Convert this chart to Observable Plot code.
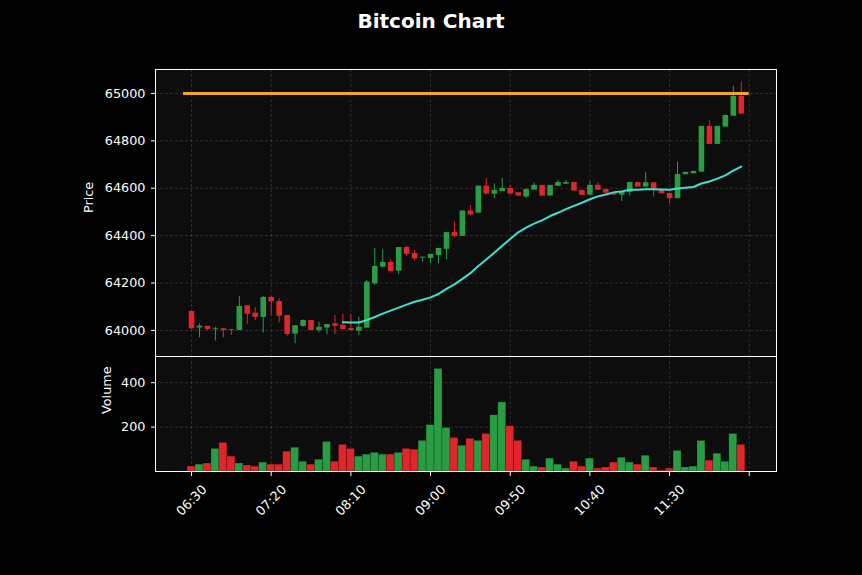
<!DOCTYPE html>
<html><head><meta charset="utf-8">
<script src="https://cdn.jsdelivr.net/npm/d3@7"></script>
<script src="https://cdn.jsdelivr.net/npm/@observablehq/plot@0.6"></script>
<style>
html,body{margin:0;padding:0;background:#000;}
#wrap{position:relative;width:862px;height:575px;background:#000;overflow:hidden;font-family:"DejaVu Sans",sans-serif;}
#title{position:absolute;top:9px;left:0;width:862px;text-align:center;color:#fff;font-weight:bold;font-size:20px;line-height:24px;}
.panel{position:absolute;left:0;}
</style></head><body>
<div id="wrap"><div id="title">Bitcoin Chart</div><div id="p1" class="panel" style="top:0"></div><div id="p2" class="panel" style="top:356px"></div></div>
<script>
const times = ["06:30","06:35","06:40","06:45","06:50","06:55","07:00","07:05","07:10","07:15",
"07:20","07:25","07:30","07:35","07:40","07:45","07:50","07:55","08:00","08:05",
"08:10","08:15","08:20","08:25","08:30","08:35","08:40","08:45","08:50","08:55",
"09:00","09:05","09:10","09:15","09:20","09:25","09:30","09:35","09:40","09:45",
"09:50","09:55","10:00","10:05","10:10","10:15","10:20","10:25","10:30","10:35",
"10:40","10:45","10:50","10:55","11:00","11:05","11:10","11:15","11:20","11:25",
"11:30","11:35","11:40","11:45","11:50","11:55","12:00","12:05","12:10","12:15"];
const open = [64080,64010,64017,64003,64007,64004,64000,64104,64073,64055,
64139,64122,64063,63985,64017,64042,64000,64010,64028,64021,
64008,63997,64010,64197,64267,64287,64250,64350,64325,64305,
64304,64316,64342,64413,64397,64504,64495,64609,64575,64586,
64599,64581,64563,64592,64612,64567,64608,64617,64624,64591,
64571,64612,64595,64577,64571,64582,64624,64605,64623,64591,
64578,64556,64657,64661,64668,64861,64785,64858,64904,64987];
const high = [64082,64028,64017,64014,64007,64004,64143,64104,64096,64143,
64143,64134,64063,64020,64045,64042,64035,64025,64063,64068,
64068,64056,64211,64345,64340,64298,64350,64357,64338,64309,
64321,64346,64413,64457,64504,64527,64609,64641,64619,64641,
64612,64581,64595,64622,64612,64612,64633,64633,64624,64591,
64629,64622,64595,64577,64586,64624,64624,64665,64623,64591,
64578,64710,64667,64671,64861,64885,64861,64910,65030,65048];
const low = [64005,63969,63999,63955,63969,63979,64000,64025,64042,63989,
64063,64032,63975,63944,64014,64000,63990,63982,63982,64004,
64000,63979,64010,64190,64264,64242,64236,64312,64293,64287,
64281,64281,64298,64390,64397,64484,64495,64574,64556,64586,
64575,64567,64558,64592,64567,64567,64608,64617,64588,64570,
64571,64591,64579,64571,64544,64567,64605,64605,64563,64577,
64534,64556,64657,64661,64668,64785,64785,64858,64904,64913];
const close = [64007,64018,64004,64007,64000,64000,64101,64068,64055,64139,
64120,64060,63983,64020,64042,64000,64013,64025,64018,64004,
64000,64014,64204,64270,64287,64249,64350,64321,64302,64309,
64321,64346,64413,64397,64504,64488,64609,64575,64591,64599,
64575,64567,64595,64612,64567,64612,64624,64624,64588,64570,
64612,64591,64579,64571,64586,64624,64605,64623,64598,64577,
64556,64658,64667,64671,64861,64785,64861,64907,64987,64913];
const volume = [22,31,36,102,129,67,36,27,22,40,
31,31,89,107,44,31,53,133,44,120,
102,67,76,84,76,76,84,102,98,138,
209,462,196,151,116,147,138,169,253,311,
204,138,53,22,18,58,31,13,44,22,
58,13,18,40,62,40,31,71,18,4,
13,93,18,22,138,49,80,44,169,120];
const xTickTimes = ["06:30","07:20","08:10","09:00","09:50","10:40","11:30","12:20"];
const xTickLabels = ["06:30","07:20","08:10","09:00","09:50","10:40","11:30",""];
const priceTicks = [64000,64200,64400,64600,64800,65000];
const volumeTicks = [200,400];
const levelPrice = 65000, levelStart = "06:25", levelEnd = "12:20";
const maPeriod = 20;

const UP = "#2a9d44", DOWN = "#e0262b";
const toMin = s => +s.slice(0,2)*60 + +s.slice(3);
const data = times.map((t,i)=>({t:toMin(t), open:open[i], high:high[i], low:low[i], close:close[i], vol:volume[i], up: close[i] >= open[i]}));
const ticks = xTickTimes.map((t,i)=>({t:toMin(t), label:xTickLabels[i]}));
const xDomain = [367.4, 757.1];
const FS = 12.8;
const font = {background:"transparent", color:"#fff", fontFamily:"DejaVu Sans, sans-serif", fontSize:FS+"px", overflow:"visible"};
const gridStyle = {stroke:"#5a5a5a", strokeOpacity:0.55, strokeDasharray:"3,2", strokeWidth:0.8};
const col = d => d.up ? UP : DOWN;

const price = Plot.plot({
  width:862, height:356, marginTop:69, marginBottom:0, marginLeft:155, marginRight:86,
  style:font,
  x:{type:"linear", domain:xDomain, axis:null},
  y:{domain:[63890,65101], axis:null},
  marks:[
    Plot.frame({fill:"#0d0d0d", stroke:null}),
    Plot.gridX(ticks.map(d=>d.t), gridStyle),
    Plot.gridY(priceTicks, gridStyle),
    Plot.ruleX(data, {x:"t", y1:"low", y2:"high", stroke:col, strokeWidth:1}),
    Plot.ruleX(data, {x:"t", y1:"open", y2:"close", stroke:col, strokeWidth:5.6}),
    Plot.ruleY([levelPrice], {x1:toMin(levelStart), x2:toMin(levelEnd), stroke:"#f5a623", strokeWidth:3}),
    Plot.lineY(data, Plot.windowY({k:maPeriod, anchor:"end", strict:true, reduce:"mean"}, {x:"t", y:"close", stroke:"#40e0d0", strokeWidth:2})),
    Plot.axisY(priceTicks, {tickSize:4, tickPadding:6, label:null, tickFormat:d=>String(d), stroke:"#fff", fill:"#fff", fontSize:FS}),
    Plot.text(["Price"], {frameAnchor:"left", dx:-67, rotate:-90, fill:"#fff", fontSize:FS}),
    Plot.frame({stroke:"#fff", strokeWidth:1})
  ]
});
document.getElementById("p1").appendChild(price);

const vol = Plot.plot({
  width:862, height:219, marginTop:0, marginBottom:104, marginLeft:155, marginRight:86,
  style:font,
  x:{type:"linear", domain:xDomain, axis:null},
  y:{domain:[0,518], axis:null},
  marks:[
    Plot.frame({fill:"#0d0d0d", stroke:null}),
    Plot.gridX(ticks.map(d=>d.t), gridStyle),
    Plot.gridY(volumeTicks, gridStyle),
    Plot.rectY(data, {x1:d=>d.t-2.5, x2:d=>d.t+2.5, y:"vol", fill:col, stroke:"#000", strokeOpacity:0.35, strokeWidth:0.6}),
    Plot.axisY(volumeTicks, {tickSize:4, tickPadding:6, label:null, tickFormat:d=>String(d), stroke:"#fff", fill:"#fff", fontSize:FS}),
    Plot.axisX(ticks.map(d=>d.t), {tickSize:5, tickFormat:()=>"", label:null, stroke:"#fff"}),
    Plot.text(ticks, {x:"t", text:"label", frameAnchor:"bottom", dy:29, rotate:-45, textAnchor:"middle", lineAnchor:"middle", fill:"#fff", fontSize:FS}),
    Plot.text(["Volume"], {frameAnchor:"left", dx:-49, rotate:-90, fill:"#fff", fontSize:FS}),
    Plot.frame({stroke:"#fff", strokeWidth:1})
  ]
});
document.getElementById("p2").appendChild(vol);
</script>
</body></html>
